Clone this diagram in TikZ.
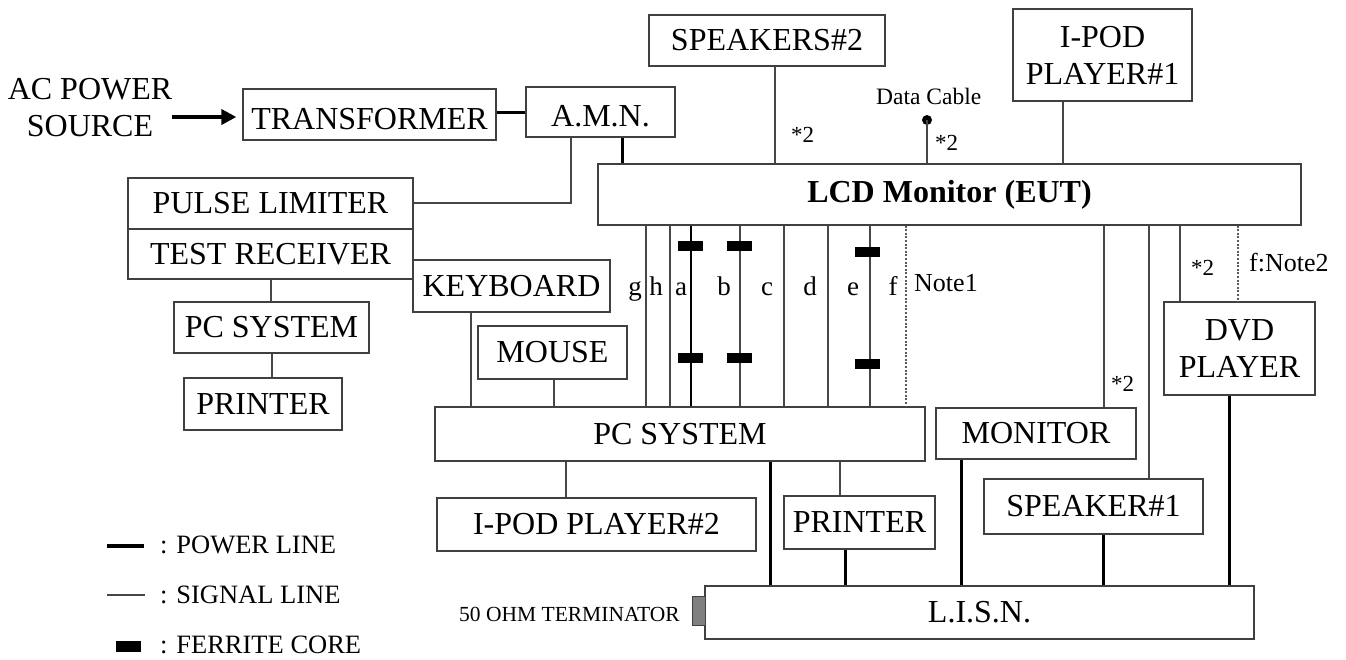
\documentclass[tikz,border=0pt]{standalone}
\usepackage{fontspec}
\setmainfont{Liberation Serif}
\usetikzlibrary{arrows.meta}
\newcommand\mainfs{\fontsize{32}{37}\selectfont}
\newcommand\bx[7][]{\node[box, #1, minimum width={(#5-#3)*1pt}, minimum height={(#6-#4)*1pt}] (#2) at ({(#3+#5)/2},{(#4+#6)/2}) {#7};}
\tikzset{
  box/.style={draw=black!75, line width=1.3pt, inner sep=0pt, fill=white, font=\mainfs, align=center},
  sig/.style={draw=black!72, line width=1.1pt},
  pow/.style={draw=black, line width=3pt},
  dotl/.style={draw=black!65, line width=1.1pt, dash pattern=on 2pt off 1.6pt},
  fer/.style={fill=black, inner sep=0pt, minimum width=25pt, minimum height=10pt},
  txt/.style={inner sep=0pt},
  lowtext/.style={text height=29pt, text depth=0pt},
  hightext/.style={text height=15pt, text depth=0pt},
  lbl/.style={inner sep=0pt, anchor=base, font=\fontsize{27}{30}\selectfont},
  small/.style={inner sep=0pt, anchor=base west, font=\fontsize{23}{26}\selectfont},
  note/.style={inner sep=0pt, anchor=base west, font=\fontsize{26}{29}\selectfont},
  leg/.style={inner sep=0pt, anchor=base west, font=\fontsize{26.5}{29}\selectfont},
}
\begin{document}
\begin{tikzpicture}[x=1pt,y=-1pt]
\useasboundingbox (0,0) rectangle (1346,659);
% text
\node[txt, font=\mainfs, align=center] (acp) at (90,108) {AC POWER\\SOURCE};
% boxes
\bx[lowtext]{trans}{243}{89}{496}{140}{TRANSFORMER}
\bx[lowtext]{amn}{526}{87}{675}{137}{A.M.N.}
\bx{pulse}{128}{178}{413}{229}{PULSE LIMITER}
\bx{testrx}{128}{229}{413}{279}{TEST RECEIVER}
\bx{pcl}{174}{302}{369}{353}{PC SYSTEM}
\bx{prl}{184}{378}{342}{430}{PRINTER}
\bx{kbd}{413}{260}{610}{312}{KEYBOARD}
\bx{mouse}{478}{326}{627}{379}{MOUSE}
\bx{spk2}{649}{15}{885}{66}{SPEAKERS\#2}
\bx{ipod1}{1013}{9}{1192}{101}{I-POD\\PLAYER\#1}
\bx[hightext]{lcd}{598}{164}{1301}{225}{\bfseries LCD Monitor (EUT)}
\bx{pc}{435}{407}{925}{461}{PC SYSTEM}
\bx{ipod2}{437}{498}{756}{551}{I-POD PLAYER\#2}
\bx{prc}{784}{496}{935}{549}{PRINTER}
\bx{mon}{936}{408}{1136}{459}{MONITOR}
\bx{spk1}{984}{479}{1203}{534}{SPEAKER\#1}
\bx{dvd}{1164}{302}{1315}{395}{DVD\\PLAYER}
\bx{lisn}{705}{586}{1254}{639}{L.I.S.N.}
\node[draw=black!75, fill=black!50, line width=1pt, inner sep=0pt, minimum width=13pt, minimum height=29pt] (term) at (698.5,610.5) {};
\node[inner sep=0pt, anchor=base east, font=\fontsize{21.5}{24}\selectfont] (termt) at (680,621) {50 OHM TERMINATOR};
% power connectors
\draw[pow, line width=4pt, -{Triangle[length=15pt,width=15pt]}, shorten >=6pt] (acp.east |- 0,117) -- (trans.west |- 0,117);
\draw[pow] (trans.east |- 0,112) -- (amn.west |- 0,112);
\draw[pow] (622,0 |- amn.south) -- (622,0 |- lcd.north);
\draw[pow] (770,0 |- pc.south) -- (770,0 |- lisn.north);
\draw[pow] (845,0 |- prc.south) -- (845,0 |- lisn.north);
\draw[pow] (961,0 |- mon.south) -- (961,0 |- lisn.north);
\draw[pow] (1103,0 |- spk1.south) -- (1103,0 |- lisn.north);
\draw[pow] (1229,0 |- dvd.south) -- (1229,0 |- lisn.north);
% signal connectors
\draw[sig] (571,0 |- amn.south) |- (pulse.east |- 0,203);
\draw[sig] (271,0 |- testrx.south) -- (271,0 |- pcl.north);
\draw[sig] (272,0 |- pcl.south) -- (272,0 |- prl.north);
\draw[sig] (471,0 |- kbd.south) -- (471,0 |- pc.north);
\draw[sig] (554,0 |- mouse.south) -- (554,0 |- pc.north);
\foreach \cx in {646,670,740,784,828,870}
  \draw[sig] (\cx,0 |- lcd.south) -- (\cx,0 |- pc.north);
\draw[sig, draw=black] (691,0 |- lcd.south) -- (691,0 |- pc.north);
\draw[dotl] (906,0 |- lcd.south) -- (906,0 |- pc.north);
\draw[sig] (775,0 |- spk2.south) -- (775,0 |- lcd.north);
\coordinate (dc) at (927,120);
\fill (dc) circle (5pt);
\draw[sig] (dc) -- (927,0 |- lcd.north);
\draw[sig] (1063,0 |- ipod1.south) -- (1063,0 |- lcd.north);
\draw[sig] (1104,0 |- lcd.south) -- (1104,0 |- mon.north);
\draw[sig] (1149,0 |- lcd.south) -- (1149,0 |- spk1.north);
\draw[sig] (1180,0 |- lcd.south) -- (1180,0 |- dvd.north);
\draw[dotl] (1238,0 |- lcd.south) -- (1238,0 |- dvd.north);
\draw[sig] (566,0 |- pc.south) -- (566,0 |- ipod2.north);
\draw[sig] (840,0 |- pc.south) -- (840,0 |- prc.north);
% ferrite cores
\node[fer] (fa1) at (690.5,246) {};
\node[fer] (fb1) at (739.5,246) {};
\node[fer] (fe1) at (867.5,252) {};
\node[fer] (fa2) at (690.5,357.5) {};
\node[fer] (fb2) at (739.5,357.5) {};
\node[fer] (fe2) at (867.5,363.5) {};
% cable labels
\node[lbl] (lg) at (635,295) {g};
\node[lbl] (lh) at (656,295) {h};
\node[lbl] (la) at (681,295) {a};
\node[lbl] (lb) at (724,295) {b};
\node[lbl] (lc) at (767,295) {c};
\node[lbl] (ld) at (810,295) {d};
\node[lbl] (le) at (853,295) {e};
\node[lbl] (lf) at (893,295) {f};
\node[note] (n1) at (914,291) {Note1};
\node[note] (n2) at (1249,271) {f:Note2};
\node[small] (s1) at (791,142) {*2};
\node[small] (s2) at (935,150) {*2};
\node[small] (s3) at (1191,275) {*2};
\node[small] (s4) at (1111,391) {*2};
\node[small, font=\fontsize{23.5}{26}\selectfont] (dct) at (876,104) {Data Cable};
% legend
\draw[pow, line width=4.5pt] (107,546) -- (144,546);
\draw[sig] (107,595) -- (145,595);
\fill (116,641) rectangle (141,652);
\node[leg] (l1) at (160,553) {: POWER LINE};
\node[leg] (l2) at (160,603) {: SIGNAL LINE};
\node[leg] (l3) at (160,653) {: FERRITE CORE};
\end{tikzpicture}
\end{document}
